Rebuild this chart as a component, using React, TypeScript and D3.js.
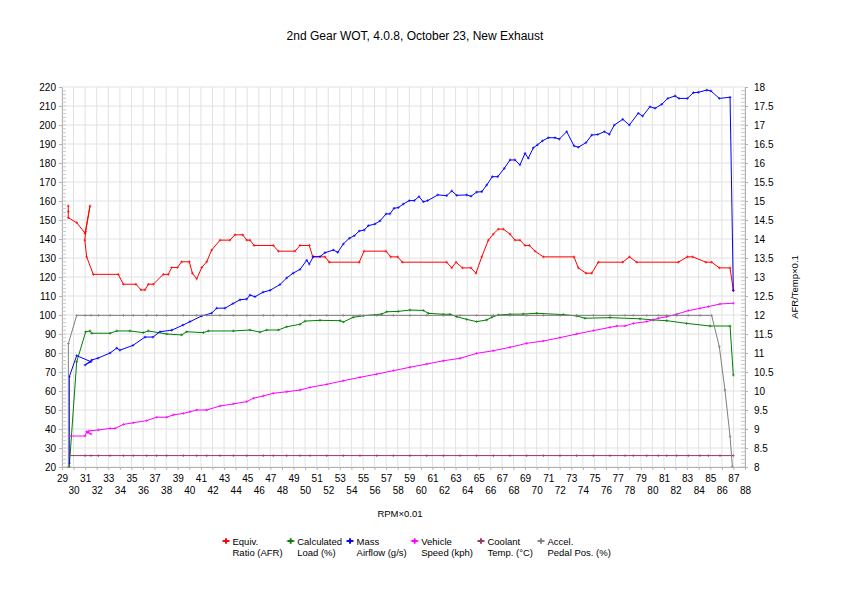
import * as d3 from 'd3';
import { useEffect, useRef } from 'react';

const chartTitle = '2nd Gear WOT, 4.0.8, October 23, New Exhaust';
const xTitle = 'RPM×0.01';
const rightTitle = 'AFR/Temp×0.1';

// every point is [rpm / 100, value]
const equivRatio: [number, number][] = [
    [29.54, 14.87], [29.54, 14.72], [29.54, 14.56], [30.27, 14.43], [30.99, 14.15], [31.42, 14.87],
    [31.05, 14.2], [30.97, 13.97], [31.13, 13.53], [31.7, 13.07], [33.86, 13.07], [34.3, 12.81],
    [35.39, 12.81], [35.82, 12.66], [36.17, 12.66], [36.46, 12.81], [36.89, 12.81], [37.75, 13.07],
    [38.18, 13.07], [38.48, 13.25], [38.96, 13.25], [39.34, 13.4], [40.0, 13.4], [40.26, 13.1],
    [40.64, 12.95], [41.07, 13.25], [41.5, 13.4], [41.93, 13.71], [42.65, 13.97], [43.51, 13.97],
    [43.94, 14.11], [44.61, 14.11], [44.96, 13.97], [45.24, 13.97], [45.59, 13.83], [47.25, 13.83],
    [47.69, 13.68], [49.13, 13.68], [49.56, 13.83], [50.36, 13.83], [50.66, 13.53], [51.72, 13.53],
    [52.09, 13.39], [54.68, 13.39], [55.09, 13.68], [56.99, 13.68], [57.39, 13.53], [58.0, 13.53],
    [58.4, 13.39], [62.23, 13.39], [62.67, 13.24], [63.04, 13.39], [63.58, 13.24], [64.33, 13.24],
    [64.76, 13.1], [65.26, 13.53], [65.83, 13.97], [66.26, 14.13], [66.69, 14.26], [67.12, 14.26],
    [67.7, 14.13], [68.13, 13.97], [68.56, 13.97], [69.0, 13.83], [69.37, 13.83], [69.86, 13.68],
    [70.58, 13.53], [73.23, 13.53], [73.6, 13.24], [74.27, 13.1], [74.76, 13.1], [75.33, 13.39],
    [77.44, 13.39], [78.01, 13.53], [78.65, 13.39], [82.24, 13.39], [83.02, 13.53], [83.48, 13.53],
    [84.63, 13.39], [85.12, 13.39], [85.78, 13.24], [86.71, 13.24], [86.99, 12.64],
];

const calcLoad: [number, number][] = [
    [29.63, 20.2], [30.27, 75.4], [31.05, 91.2], [31.42, 91.6], [31.57, 90.4], [33.15, 90.4],
    [33.73, 91.6], [34.87, 91.6], [36.02, 90.7], [36.46, 91.6], [38.04, 90], [39.34, 89.5],
    [39.77, 91.2], [41.21, 90.7], [41.64, 91.6], [43.8, 91.6], [45.24, 92.1], [46.1, 91],
    [46.68, 92.1], [47.69, 92.1], [48.41, 93.8], [49.56, 95.1], [49.99, 96.8], [51.29, 97.2],
    [53.02, 97], [53.3, 96.3], [54.16, 98.8], [55.03, 99.6], [56.62, 100.5], [57.05, 101.7],
    [58.05, 101.9], [59.06, 102.6], [60.21, 102.4], [60.64, 100.9], [61.94, 100.4], [62.52, 100.4],
    [63.1, 99.1], [63.96, 97.7], [64.82, 96.5], [65.69, 97.4], [66.12, 98.8], [66.69, 100],
    [67.7, 100.4], [68.85, 100.5], [70.01, 100.9], [72.31, 100.2], [73.46, 99.5], [74.18, 98.3],
    [76.34, 98.6], [78.93, 98], [80.08, 97.4], [81.24, 97], [82.96, 95.6], [84.98, 94.2],
    [86.71, 94.2], [86.99, 68.4],
];

const massAirflow: [number, number][] = [
    [29.63, 22], [29.63, 67.5], [30.27, 78.6], [31.51, 75.4], [30.99, 73.7], [31.57, 76.3],
    [32.11, 77.3], [33.15, 80], [33.73, 82.6], [34.0, 81.5], [35.13, 84], [36.17, 88.4],
    [36.86, 88.4], [37.47, 91.2], [38.48, 92], [39.45, 94.7], [40.06, 96.5], [41.07, 99.5],
    [41.93, 101], [42.36, 103.6], [43.08, 103.6], [43.77, 106], [44.38, 108], [44.96, 108.4],
    [45.24, 110.5], [45.67, 109.6], [46.36, 112], [46.97, 113], [47.83, 116], [48.41, 119.5],
    [48.96, 122], [49.56, 124], [50.14, 128.8], [50.36, 126.8], [50.71, 130.7], [51.29, 130.7],
    [51.72, 132.8], [52.44, 134.2], [52.82, 133], [53.3, 137.4], [53.82, 140.4], [54.25, 141.7],
    [54.68, 144.2], [55.11, 144.7], [55.46, 147], [56.04, 147.9], [56.47, 149.5], [56.99, 153.2],
    [57.33, 153.2], [57.68, 156.2], [58.05, 156.5], [58.48, 158.4], [59.0, 160.2], [59.43, 160.2],
    [59.84, 162.3], [60.21, 159.6], [60.59, 160.2], [61.46, 163.2], [62.23, 162.8], [62.67, 165.3],
    [63.1, 163], [63.96, 163.2], [64.33, 162.5], [64.82, 164.7], [65.26, 164.9], [65.69, 168.4],
    [66.17, 172.8], [66.64, 172.8], [67.21, 177.2], [67.7, 181.6], [68.13, 181.6], [68.56, 179],
    [69.0, 185.1], [69.28, 182.5], [69.71, 188], [70.06, 189.5], [70.49, 191.6], [71.01, 193.3],
    [71.59, 193.3], [71.96, 192.6], [72.6, 196.5], [73.23, 189], [73.6, 188.3], [74.27, 190.7],
    [74.76, 194.7], [75.28, 195], [75.85, 196.5], [76.28, 195.1], [76.71, 200], [77.44, 203],
    [78.01, 200], [78.78, 206.2], [79.16, 204.7], [79.79, 209.6], [80.23, 208.8], [80.81, 210.9],
    [81.33, 214], [81.96, 215.3], [82.3, 214], [83.02, 214], [83.54, 217], [83.97, 217.2],
    [84.7, 218.4], [85.06, 217.9], [85.78, 214], [86.71, 214.6], [86.99, 113],
];

const vehicleSpeed: [number, number][] = [
    [29.63, 36.3], [30.99, 36.3], [31.13, 38.6], [31.51, 37.4], [31.2, 38.2], [31.33, 39],
    [32.14, 39.5], [33.15, 40.3], [33.58, 40.3], [34.3, 42.4], [35.16, 43.3], [36.32, 44.4],
    [37.18, 46.2], [38.04, 46.2], [38.61, 47.4], [39.48, 48.2], [40.06, 49.1], [40.64, 50],
    [41.5, 50], [42.65, 52.1], [43.8, 53.2], [44.96, 54.4], [45.53, 56.2], [46.39, 57.4],
    [47.25, 58.8], [48.41, 59.6], [49.56, 60.5], [50.42, 61.9], [51.87, 63.5], [53.3, 65.4],
    [54.74, 67.2], [56.19, 68.9], [57.62, 70.7], [59.06, 72.5], [60.51, 74.2], [61.94, 75.9],
    [63.38, 77.2], [64.82, 79.8], [66.26, 81.2], [67.7, 83], [69.14, 85.1], [70.58, 86.3],
    [72.02, 88.1], [73.46, 90], [74.9, 91.8], [76.34, 93.5], [76.92, 94.2], [77.64, 94.2],
    [78.35, 95.6], [79.51, 96.5], [80.51, 98.3], [81.24, 99.1], [82.1, 100.4], [83.1, 102.3],
    [84.11, 103.5], [84.83, 104.4], [85.84, 105.8], [86.99, 106.2],
];

const coolantTemp: [number, number][] = [
    [29.63, 8.3], [30.99, 8.3], [31.5, 8.3], [32.14, 8.3], [33.15, 8.3], [34.3, 8.3], [35.16, 8.3],
    [36.32, 8.3], [37.18, 8.3], [38.04, 8.3], [39.48, 8.3], [40.64, 8.3], [41.5, 8.3], [42.65, 8.3],
    [43.8, 8.3], [44.96, 8.3], [46.39, 8.3], [47.25, 8.3], [48.41, 8.3], [49.56, 8.3], [50.42, 8.3],
    [51.87, 8.3], [53.3, 8.3], [54.74, 8.3], [56.19, 8.3], [57.62, 8.3], [59.06, 8.3], [60.51, 8.3],
    [61.94, 8.3], [63.38, 8.3], [64.82, 8.3], [66.26, 8.3], [67.7, 8.3], [69.14, 8.3], [70.58, 8.3],
    [72.02, 8.3], [73.46, 8.3], [74.9, 8.3], [76.34, 8.3], [77.64, 8.3], [78.35, 8.3], [79.51, 8.3],
    [80.51, 8.3], [81.24, 8.3], [82.1, 8.3], [83.1, 8.3], [84.11, 8.3], [84.83, 8.3], [85.84, 8.3],
    [86.99, 8.3],
];

const pedalPos: [number, number][] = [
    [29.55, 20], [29.55, 85], [30.27, 99.8], [30.99, 99.8], [31.5, 99.8], [32.14, 99.8], [33.15, 99.8],
    [34.3, 99.8], [35.16, 99.8], [36.32, 99.8], [37.18, 99.8], [38.04, 99.8], [39.48, 99.8], [40.64, 99.8],
    [41.5, 99.8], [42.65, 99.8], [43.8, 99.8], [44.96, 99.8], [46.39, 99.8], [47.25, 99.8], [48.41, 99.8],
    [49.56, 99.8], [50.42, 99.8], [51.87, 99.8], [53.3, 99.8], [54.74, 99.8], [56.19, 99.8], [57.62, 99.8],
    [59.06, 99.8], [60.51, 99.8], [61.94, 99.8], [63.38, 99.8], [64.82, 99.8], [66.26, 99.8], [67.7, 99.8],
    [69.14, 99.8], [70.58, 99.8], [72.02, 99.8], [73.46, 99.8], [74.9, 99.8], [76.34, 99.8], [77.64, 99.8],
    [78.35, 99.8], [79.51, 99.8], [80.51, 99.8], [81.24, 99.8], [82.1, 99.8], [83.1, 99.8], [84.11, 99.8],
    [85.12, 99.8], [85.78, 83.3], [86.27, 60.5], [86.71, 36], [86.91, 20.2],
];

const legendLabels = [
    ['Equiv.', 'Ratio (AFR)'],
    ['Calculated', 'Load (%)'],
    ['Mass', 'Airflow (g/s)'],
    ['Vehicle', 'Speed (kph)'],
    ['Coolant', 'Temp. (°C)'],
    ['Accel.', 'Pedal Pos. (%)'],
];

const xTicks = d3.range(29, 89);
const leftTicks = d3.range(20, 221, 10);
const rightTicks = d3.range(16, 37).map((d) => d / 2);

const FONT = '"Liberation Sans", Arial, sans-serif';

export default function App() {
    const ref = useRef<SVGSVGElement>(null);

    useEffect(() => {
        const width = 842;
        const height = 595;
        const margin = { top: 87, right: 97, bottom: 128, left: 62 };
        const plotW = width - margin.left - margin.right;
        const plotH = height - margin.top - margin.bottom;

        const svg = d3.select(ref.current!);
        svg.selectAll('*').remove();
        svg.attr('font-family', FONT);

        svg.append('rect').attr('width', width).attr('height', height).attr('fill', '#fff');

        const x = d3.scaleLinear().domain([29, 88]).range([margin.left, margin.left + plotW]);
        const yLeft = d3.scaleLinear().domain([20, 220]).range([margin.top + plotH, margin.top]);
        const yRight = d3.scaleLinear().domain([8, 18]).range([margin.top + plotH, margin.top]);

        // grid
        const grid = svg.append('g').attr('stroke', '#e2e2e2').attr('stroke-width', 1);
        grid.selectAll('.vg').data(xTicks).join('line')
            .attr('x1', (d) => x(d)).attr('x2', (d) => x(d))
            .attr('y1', margin.top).attr('y2', margin.top + plotH);
        grid.selectAll('.hg').data(leftTicks).join('line')
            .attr('x1', margin.left).attr('x2', margin.left + plotW)
            .attr('y1', (d) => yLeft(d)).attr('y2', (d) => yLeft(d));

        const styleAxis = (g: any) => {
            g.select('.domain').attr('stroke', '#b3b3b3');
            g.selectAll('.tick line').attr('stroke', '#b3b3b3');
            g.selectAll('.tick text').attr('fill', '#000').attr('font-size', 10).attr('font-family', FONT);
        };

        // left axis + minor ticks
        svg.append('g')
            .attr('transform', `translate(${margin.left},0)`)
            .call(d3.axisLeft(yLeft).tickValues(leftTicks).tickSize(3).tickSizeOuter(0).tickPadding(3))
            .call(styleAxis);
        svg.append('g').attr('stroke', '#c8c8c8')
            .selectAll('line').data(d3.range(20, 220, 2)).join('line')
            .attr('x1', margin.left).attr('x2', margin.left + 4)
            .attr('y1', (d) => yLeft(d)).attr('y2', (d) => yLeft(d));

        // right axis + minor ticks
        svg.append('g')
            .attr('transform', `translate(${margin.left + plotW},0)`)
            .call(d3.axisRight(yRight).tickValues(rightTicks).tickSize(3).tickSizeOuter(0).tickPadding(6)
                .tickFormat((d: any) => String(d)))
            .call(styleAxis);
        svg.append('g').attr('stroke', '#c8c8c8')
            .selectAll('line').data(d3.range(80, 180).map((d) => d / 10)).join('line')
            .attr('x1', margin.left + plotW - 4).attr('x2', margin.left + plotW)
            .attr('y1', (d) => yRight(d)).attr('y2', (d) => yRight(d));

        // bottom axis, labels staggered on two rows
        svg.append('g')
            .attr('transform', `translate(0,${margin.top + plotH})`)
            .call(d3.axisBottom(x).tickValues(xTicks).tickSize(3).tickSizeOuter(0).tickFormat((d: any) => String(d)))
            .call(styleAxis)
            .call((g: any) => g.selectAll('.tick text').attr('y', (d: number) => (d % 2 === 1 ? 8 : 20)));

        // titles
        svg.append('text').text(chartTitle)
            .attr('x', 415).attr('y', 40).attr('text-anchor', 'middle').attr('font-size', 12);
        svg.append('text').text(xTitle)
            .attr('x', 400).attr('y', 517).attr('text-anchor', 'middle').attr('font-size', 9.5);
        svg.append('text').text(rightTitle)
            .attr('transform', `translate(798,287) rotate(-90)`)
            .attr('text-anchor', 'middle').attr('font-size', 9.5);

        const series = [
            { data: equivRatio, color: '#ff0000', y: yRight },
            { data: calcLoad, color: '#008000', y: yLeft },
            { data: massAirflow, color: '#0000ff', y: yLeft },
            { data: vehicleSpeed, color: '#ff00ff', y: yLeft },
            { data: coolantTemp, color: '#993366', y: yRight },
            { data: pedalPos, color: '#808080', y: yLeft },
        ];

        // small point markers, as in the spreadsheet export
        const marker = d3.symbol().type(d3.symbolCross).size(4);
        const dataArea = svg.append('g');
        series.forEach((s) => {
            const line = d3.line<[number, number]>()
                .x((d) => x(d[0]))
                .y((d) => s.y(d[1]));
            dataArea.append('path')
                .datum(s.data)
                .attr('d', line)
                .attr('fill', 'none')
                .attr('stroke', s.color)
                .attr('stroke-width', 1);
            dataArea.append('g').selectAll('path').data(s.data).join('path')
                .attr('d', marker)
                .attr('fill', s.color)
                .attr('opacity', 0.8)
                .attr('transform', (d) => `translate(${x(d[0])},${s.y(d[1])})`);
        });

        // legend
        const legend = svg.append('g').attr('font-size', 9.5);
        let lx = 222;
        legendLabels.forEach((lab, i) => {
            const item = legend.append('g');
            item.append('line')
                .attr('x1', lx).attr('x2', lx + 8).attr('y1', 541).attr('y2', 541)
                .attr('stroke', series[i].color);
            item.append('path')
                .attr('d', d3.symbol().type(d3.symbolCross).size(18)())
                .attr('fill', series[i].color)
                .attr('transform', `translate(${lx + 4},541)`);
            const t1 = item.append('text').text(lab[0]).attr('x', lx + 10.5).attr('y', 544.5);
            const t2 = item.append('text').text(lab[1]).attr('x', lx + 10.5).attr('y', 556);
            const w = Math.max((t1.node() as any).getComputedTextLength(), (t2.node() as any).getComputedTextLength());
            lx += 10.5 + w + 4;
        });
    }, []);

    return (
        <svg ref={ref} width={842} height={595} style={{ position: 'absolute', left: 0, top: 0 }}></svg>
    );
}
